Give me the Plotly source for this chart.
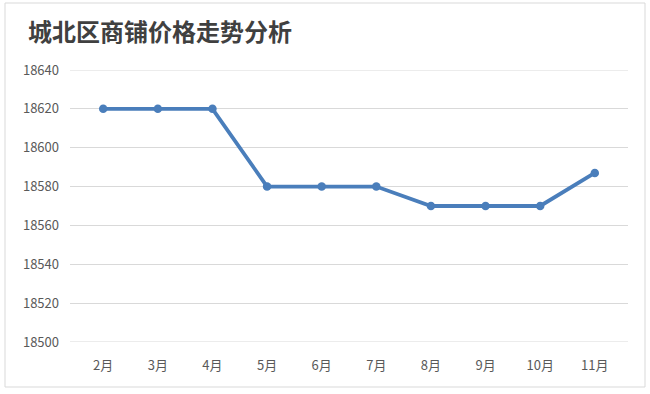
import plotly.graph_objects as go

months = ["2月", "3月", "4月", "5月", "6月", "7月", "8月", "9月", "10月", "11月"]
prices = [18620, 18620, 18620, 18580, 18580, 18580, 18570, 18570, 18570, 18587]
y_ticks = [18500, 18520, 18540, 18560, 18580, 18600, 18620, 18640]

W, H = 650, 394
L, R, T, B = 70, 22, 70, 52
pw, ph = W - L - R, H - T - B

def px(x):
    return (x - L) / pw

def py(y):
    return (H - B - y) / ph

fig = go.Figure()
fig.add_trace(go.Scatter(
    x=months, y=prices, mode="lines+markers",
    line=dict(color="#4A7EBB", width=3.8),
    marker=dict(color="#4A7EBB", size=8.5),
    hoverinfo="x+y",
))

shapes = [dict(type="rect", xref="paper", yref="paper",
               x0=px(5), x1=px(645), y0=py(3), y1=py(387),
               line=dict(color="#D9D9D9", width=1), layer="below")]
for v in (y_ticks[0], y_ticks[-1]):
    shapes.append(dict(type="line", xref="paper", yref="y", x0=0, x1=1,
                       y0=v, y1=v, line=dict(color="#D9D9D9", width=1),
                       layer="below"))

fig.update_layout(
    width=W, height=H,
    margin=dict(l=L, r=R, t=T, b=B),
    paper_bgcolor="white", plot_bgcolor="white",
    showlegend=False,
    font=dict(family="Noto Sans CJK SC, sans-serif", color="#595959", size=13),
    title=dict(text="<b>城北区商铺价格走势分析</b>", x=28 / W, xanchor="left",
               y=1 - 33 / H, yanchor="middle",
               font=dict(size=24, color="#404040", family="Noto Sans CJK SC")),
    xaxis=dict(showgrid=False, showline=False, zeroline=False, ticks="",
               ticklabelstandoff=14,
               tickfont=dict(size=13, color="#595959")),
    yaxis=dict(range=[18500, 18640], tickvals=y_ticks,
               ticktext=[str(v) for v in y_ticks], showgrid=True,
               gridcolor="#D9D9D9", gridwidth=1, zeroline=False, showline=False,
               ticks="", ticklabelstandoff=10,
               tickfont=dict(size=13, color="#595959")),
    shapes=shapes,
)

fig.write_html("out.html", post_script="document.body.style.margin='0';",
               config={"displayModeBar": False})
